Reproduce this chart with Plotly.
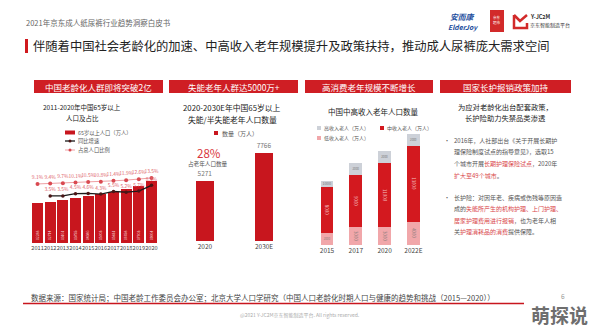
import plotly.graph_objects as go

W, H = 594, 331
def X(px): return px / W
def Y(py): return 1 - py / H

FONT = "Noto Sans CJK SC"
RED = "#C8161E"
HEAD_RED = "#CF1E24"
TXT = "#333333"

# ---------------- data ----------------
years1 = ["2011", "2012", "2013", "2014", "2015", "2016", "2017", "2018", "2019", "2020"]
pop65 = [12288, 12714, 13161, 13755, 14386, 15003, 15831, 16658, 17603, 19064]
share = [9.1, 9.4, 9.7, 10.1, 10.5, 10.8, 11.4, 11.9, 12.6, 13.5]
growth_years = ["2012", "2013", "2014", "2015", "2016", "2017", "2018", "2019", "2020"]
growth = [3.5, 3.5, 4.5, 4.6, 4.3, 5.5, 5.2, 5.7, 8.3]

years2 = ["2020", "2030E"]
disabled = [5271, 7766]

years3 = ["2015", "2017", "2020", "2022E"]
low_income = [2000, 3000, 3000, 4000]
mid_income = [8000, 9000, 11000, 13000]
high_income = [1000, 2000, 2000, 2000]

fig = go.Figure()

# ---------------- panel 1 ----------------
fig.add_trace(go.Bar(
    x=years1, y=pop65, xaxis="x", yaxis="y", width=0.86,
    marker=dict(color=RED, line=dict(width=0)),
    text=[str(v) for v in pop65], textangle=-90, textposition="inside",
    insidetextanchor="start", textfont=dict(size=5.5, color="rgba(255,255,255,0.85)", family=FONT),
    showlegend=False, hoverinfo="skip"))
fig.add_trace(go.Scatter(
    x=years1, y=share, xaxis="x", yaxis="y2", mode="lines+markers+text",
    line=dict(color="#EFA0A4", width=1), marker=dict(size=4, color="#D94950"),
    text=[f"{v}%" for v in share], textposition="top center",
    textfont=dict(size=4.9, color="#E0676E", family=FONT),
    showlegend=False, hoverinfo="skip", cliponaxis=False))
fig.add_trace(go.Scatter(
    x=growth_years, y=growth, xaxis="x", yaxis="y3", mode="lines+markers+text",
    line=dict(color="#1a1a1a", width=1.3), marker=dict(size=3.5, color="#4a1515"),
    text=[f"{v}%" for v in growth], textposition="top center",
    textfont=dict(size=4.9, color="#E0676E", family=FONT),
    showlegend=False, hoverinfo="skip", cliponaxis=False))

# ---------------- panel 2 ----------------
fig.add_trace(go.Bar(
    x=years2, y=disabled, xaxis="x2", yaxis="y4", width=0.3,
    marker=dict(color=RED, line=dict(width=0)),
    text=[str(v) for v in disabled], textposition="outside",
    textfont=dict(size=6.5, color="#777777", family=FONT),
    cliponaxis=False, showlegend=False, hoverinfo="skip"))

# ---------------- panel 3 ----------------
for vals, col, tcol in [(low_income, "#F1A7AA", "#8a7b7b"),
                        (mid_income, "#D3191F", "#F4C0C0"),
                        (high_income, "#CDD1D8", "#777777")]:
    fig.add_trace(go.Bar(
        x=years3, y=vals, xaxis="x3", yaxis="y5", width=0.44,
        marker=dict(color=col, line=dict(width=0)),
        text=[str(v) for v in vals], textposition="inside", insidetextanchor="middle",
        textfont=dict(size=6, color=tcol, family=FONT),
        showlegend=False, hoverinfo="skip"))

hidden = dict(visible=False, showgrid=False, zeroline=False)
def xax(size):
    return dict(type="category", showgrid=False, zeroline=False, showline=False, ticks="",
                tickangle=0, tickfont=dict(family=FONT, color="#444444", size=size))

fig.update_layout(
    width=W, height=H, margin=dict(l=0, r=0, t=0, b=0),
    paper_bgcolor="white", plot_bgcolor="rgba(0,0,0,0)",
    barmode="stack", showlegend=False,
    font=dict(family=FONT),
    xaxis=dict(domain=[X(31.2), X(157.8)], anchor="y", range=[-0.5, 9.5], **xax(5.6)),
    yaxis=dict(domain=[Y(243), Y(160)], range=[0, 25520], **hidden),
    yaxis2=dict(overlaying="y", range=[-34.3, 26.7], **hidden),
    yaxis3=dict(overlaying="y", range=[-17.9, 19.8], **hidden),
    xaxis2=dict(domain=[X(176), X(293)], anchor="y4", range=[-0.49, 1.49], **xax(6.5)),
    yaxis4=dict(domain=[Y(241), Y(140)], range=[0, 8873], **hidden),
    xaxis3=dict(domain=[X(312.6), X(427.8)], anchor="y5", range=[-0.5, 3.5], **xax(6.5)),
    yaxis5=dict(domain=[Y(245), Y(130)], range=[0, 19660], **hidden),
)

shapes = []
ann = []

def rect(x0, y0, x1, y1, fill, line=None, lw=0):
    shapes.append(dict(type="rect", xref="paper", yref="paper",
                       x0=X(x0), x1=X(x1), y0=Y(y1), y1=Y(y0),
                       fillcolor=fill, line=dict(width=lw, color=line or fill), layer="above"))

def hline(x0, x1, y, color, w=1):
    shapes.append(dict(type="line", xref="paper", yref="paper",
                       x0=X(x0), x1=X(x1), y0=Y(y), y1=Y(y),
                       line=dict(color=color, width=w), layer="above"))

def text(x, y, s, size, color=TXT, anchor="left", bold=False):
    if bold:
        s = f"<b>{s}</b>"
    ann.append(dict(xref="paper", yref="paper", x=X(x), y=Y(y), text=s, showarrow=False,
                    xanchor=anchor, yanchor="middle", borderpad=0,
                    font=dict(family=FONT, size=size, color=color)))

# header
text(25, 23, "2021年京东成人纸尿裤行业趋势洞察白皮书", 7.5, "#666666")
text(463, 16, "<i>安而康</i>", 7.8, "#1A4C9C", "center", bold=True)
text(463, 27, "<i>ElderJoy</i>", 6.8, "#1A4C9C", "center", bold=True)
rect(490, 10, 504, 32, "#D22A2A")
text(497, 17, "京东", 3.6, "white", "center")
text(497, 23, "超市", 3.6, "white", "center")
shapes.append(dict(type="path", xref="paper", yref="paper",
                   path=f"M{X(514)},{Y(15)} L{X(514)},{Y(28)} L{X(527)},{Y(28)} L{X(527)},{Y(23)} "
                        f"M{X(514)},{Y(15)} L{X(520)},{Y(21)} L{X(527)},{Y(15)}",
                   line=dict(color="#D22A2A", width=2.5), layer="above"))
text(529, 17.5, "<b>Y-JC2M</b>", 5.5, "#333333")
text(529, 25.5, "京东智能制造平台", 5, "#333333")

# main title
rect(25, 39, 28, 53, "#D0191E")
text(32, 46, "伴随着中国社会老龄化的加速、中高收入老年规模提升及政策扶持，推动成人尿裤庞大需求空间", 12.3, "#222222")

# panel headers
for (x0, x1, s) in [(34, 163, "中国老龄化人群即将突破2亿"),
                    (169, 298, "失能老年人群达5000万+"),
                    (305, 433, "高消费老年规模不断增长"),
                    (440, 571, "国家长护报销政策加持")]:
    rect(x0, 80, x1, 93, HEAD_RED)
    text((x0 + x1) / 2, 86.5, s, 8.5, "white", "center")

# panel 1 title & legend
text(82, 107, "2011-2020年中国65岁以上", 6.5, "#222222", "center")
text(82, 118, "人口及占比", 6.5, "#222222", "center")
rect(65, 130.5, 75, 134.5, RED)
text(77, 132.5, "65岁以上人口（万人）", 5.3, "#555555")
hline(65, 75, 141, "#1a1a1a", 1.3)
shapes.append(dict(type="circle", xref="paper", yref="paper", x0=X(68.5), x1=X(71.5),
                   y0=Y(142.5), y1=Y(139.5), fillcolor="#4a1515", line=dict(width=0), layer="above"))
text(77, 141, "同比增速", 5.3, "#555555")
hline(65, 75, 150, "#EFA0A4", 1)
shapes.append(dict(type="circle", xref="paper", yref="paper", x0=X(68.5), x1=X(71.5),
                   y0=Y(151.5), y1=Y(148.5), fillcolor="#D94950", line=dict(width=0), layer="above"))
text(77, 150, "占总人口比例", 5.3, "#555555")

# panel 2 title & legend
text(232, 108, "2020-2030E年中国65岁以上", 7.8, "#222222", "center")
text(232, 119, "失能/半失能老年人口数量", 7.8, "#222222", "center")
rect(214, 131, 218, 135, RED)
text(221, 133, "数量（万人）", 6, "#555555")
text(209, 152.5, "28%", 11.5, "#D9363E", "center")
text(208, 164, "占老年人口数量", 5.6, "#555555", "center")

# panel 3 title & legend
text(373, 111, "中国中高收入老年人口数量", 7.5, "#222222", "center")
rect(317, 126, 321, 130, "#CDD1D8")
text(323, 128, "高收入老人（万人）", 5, "#555555")
rect(380, 126, 384, 130, "#D3191F")
text(386, 128, "中收入老人（万人）", 5, "#555555")
rect(317, 136, 321, 140, "#F1A7AA")
text(323, 138, "低收入老人（万人）", 5, "#555555")

# panel 4 text
text(505, 107, "为应对老龄化出台配套政策，", 7.3, "#222222", "center")
text(505, 118, "长护险助力失禁品类渗透", 7.3, "#222222", "center")
R = "<span style='color:#D9474B'>{}</span>"
b1 = ["2016年，人社部出台《关于开展长期护",
      "理保险制度试点的指导意见》，选取15",
      "个城市开展" + R.format("长期护理保险试点") + "，2020年",
      R.format("扩大至49个城市") + "。"]
b2 = ["长护险：对因年老、疾病或伤残等原因造",
      "成的" + R.format("失能所产生的机构护理、上门护理、"),
      R.format("居家护理费用进行报销") + "，也为老年人相",
      "关" + R.format("护理消耗品的消费") + "提供保障。"]
for s, y in zip(b1, [140, 151.7, 163.4, 175]):
    text(453, y, s, 6, "#555555")
for s, y in zip(b2, [197, 208.5, 220, 231.5]):
    text(453, y, s, 6, "#555555")
text(447, 140, "•", 6, "#555555", "center")
text(447, 197, "•", 6, "#555555", "center")

# footer
text(30, 297, "数据来源：国家统计局；中国老龄工作委员会办公室；北京大学人口学研究（中国人口老龄化时期人口与健康的趋势和挑战（2015—2020））", 7.5, "#444444")
hline(23, 524, 303.5, "#C8161E", 1.4)
text(563, 295.5, "6", 6.5, "#999999", "center")
text(300, 315, "@2021 Y-JC2M京东智能制造平台. All rights reserved.", 5, "#AAAAAA", "center")
text(559, 314, "萌探说", 19, "#6E6E6E", "center", bold=True)

fig.update_layout(shapes=shapes, annotations=ann)
fig.write_html("out.html")
